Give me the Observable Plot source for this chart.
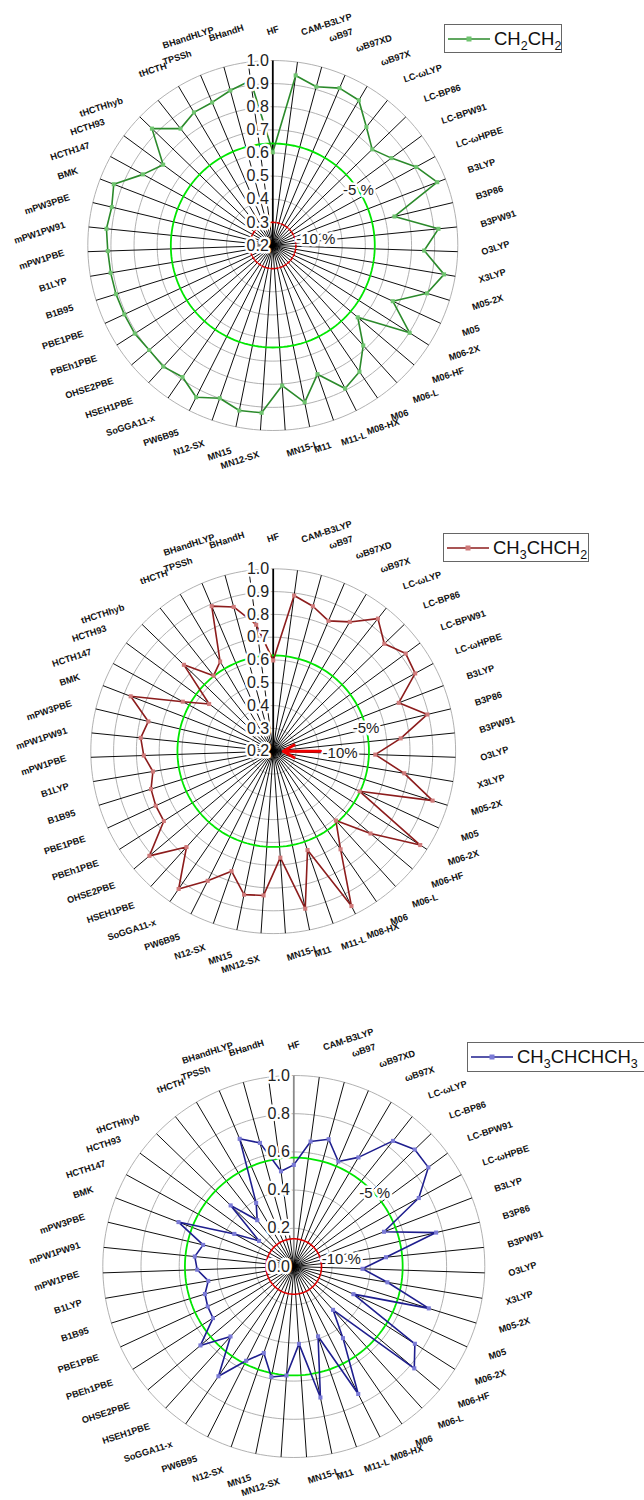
<!DOCTYPE html>
<html>
<head>
<meta charset="utf-8">
<script src="https://cdn.jsdelivr.net/npm/d3@7"></script>
<script src="https://cdn.jsdelivr.net/npm/@observablehq/plot@0.6"></script>
<style>
  html,body{margin:0;padding:0;background:#fff;overflow:hidden;}
  #page{position:relative;width:644px;height:1500px;overflow:hidden;font-family:"Liberation Sans",Arial,sans-serif;}
  .panel{position:absolute;left:0;width:644px;}
  .legend{position:absolute;box-sizing:border-box;border:1px solid #666;background:#fff;display:flex;align-items:center;white-space:nowrap;font-size:18.5px;color:#111;padding-left:2px;}
  .legend svg{margin-right:3px;flex:none;}
  .legend sub{font-size:12.5px;vertical-align:-5px;line-height:0;}
</style>
</head>
<body>
<div id="page"></div>
<script>
// ---------------- data ----------------
const categories = ["HF","CAM-B3LYP","ωB97","ωB97XD","ωB97X","LC-ωLYP","LC-BP86","LC-BPW91","LC-ωHPBE",
  "B3LYP","B3P86","B3PW91","O3LYP","X3LYP","M05-2X","M05","M06-2X","M06-HF","M06-L","M06","M08-HX",
  "M11-L","M11","MN15-L","MN12-SX","MN15","N12-SX","PW6B95","SoGGA11-x","HSEH1PBE","OHSE2PBE",
  "PBEh1PBE","PBE1PBE","B1B95","B1LYP","mPW1PBE","mPW1PW91","mPW3PBE","BMK","HCTH147","HCTH93",
  "tHCTHhyb","","tHCTH","TPSSh","BHandHLYP","BHandH"];

const valuesCH2CH2 = [0.603,0.942,0.912,0.939,0.930,0.853,0.798,0.837,0.907,0.962,
  0.741,0.920,0.855,0.951,0.898,0.772,0.902,0.681,0.783,0.862,
  0.893,0.789,0.892,0.807,0.925,0.928,0.899,0.935,0.890,0.906,
  0.900,0.908,0.908,0.910,0.911,0.914,0.923,0.916,0.937,0.840,
  0.789,0.927,0.844,0.869,0.872,0.895,0.920];

const valuesCH3CHCH2 = [0.598,0.889,0.859,0.821,0.859,0.941,0.878,0.922,0.910,0.790,
  0.895,0.762,0.648,0.783,0.932,0.618,0.965,0.759,0.610,0.722,
  0.961,0.659,0.905,0.668,0.834,0.842,0.757,0.837,0.933,0.767,
  0.911,0.769,0.768,0.761,0.735,0.768,0.784,0.763,0.870,0.652,
  0.549,0.745,0.622,0.657,0.891,0.856,0.760];

const valuesCH3CHCHCH3 = [0.532,0.660,0.691,0.597,0.664,0.838,0.881,0.875,0.746,0.506,
  0.766,0.485,0.360,0.497,0.740,0.344,0.752,0.826,0.306,0.455,
  0.748,0.387,0.700,0.406,0.572,0.590,0.479,0.553,0.697,0.494,
  0.640,0.502,0.497,0.487,0.454,0.506,0.521,0.488,0.647,0.355,
  0.226,0.460,0.309,0.387,0.726,0.671,0.503];

const ticksA = [0.2,0.3,0.4,0.5,0.6,0.7,0.8,0.9,1.0];
const tickLabelsA = ["0.2","0.3","0.4","0.5","0.6","0.7","0.8","0.9","1.0"];
const ticksB = [0.0,0.2,0.4,0.6,0.8,1.0];
const tickLabelsB = ["0.0","0.2","0.4","0.6","0.8","1.0"];

// reference rings (-5 % / -10 %) per panel, in axis units
const ringFive = [0.641, 0.620, 0.570];
const ringTen  = [0.300, null, 0.145];
const ringFiveText = ["-5 %", "-5%", "-5 %"];
const ringTenText  = ["-10 %", "-10%", "-10 %"];

// ---------------- drawing ----------------
const W = 644;
const page = document.getElementById("page");
// extra label clearance for the crowded labels just left of the top spoke
const crowdedExtra = {45: 15, 46: 11};

function radar(cfg) {
  const n = categories.length;
  const rs = d3.scaleLinear().domain([cfg.vmin, cfg.vmax]).range([0, cfg.R]);
  const ang = i => i * 2 * Math.PI / n;
  const polar = (r, t) => [r * Math.sin(t), -r * Math.cos(t)];
  const circle = (level) => d3.range(0, 360, 2).map(deg => {
    const [x, y] = polar(rs(level), deg * Math.PI / 180);
    return {level, x, y};
  });
  const grid = cfg.gridLevels.flatMap(circle);
  const spokes = categories.map((c, i) => {
    const [x2, y2] = polar(cfg.R, ang(i));
    return {i, x1: 0, y1: 0, x2, y2};
  });
  const pts = cfg.values.map((v, i) => {
    const [x, y] = polar(rs(v), ang(i));
    return {v, i, x, y};
  });
  const labels = categories.map((c, i) => {
    const t = ang(i);
    const deg = i * 360 / n;
    const bump = (deg <= 90) ? 6 * Math.pow(Math.cos(t), 4) : 0;
    const gap = cfg.labelGap + bump + (crowdedExtra[i] || 0);
    const [x, y] = polar(cfg.R + gap, t);
    return {text: c, x, y, side: deg === 0 ? "mid" : (deg <= 180 ? "right" : "left")};
  });
  const ticks = cfg.ticks.map((t, k) => ({t, label: cfg.tickLabels[k], y: -rs(t)}));

  const fivePos = (() => { const [x, y] = polar(rs(cfg.five), cfg.fiveAngle * Math.PI / 180); return [{x, y, text: cfg.fiveText}]; })();

  const labelStyle = {fontWeight: "bold", fontSize: 9.2, rotate: -18, fill: "#111"};
  const marks = [
    Plot.line(grid, {x: "x", y: "y", z: "level", stroke: "#a8a8a8", strokeWidth: 0.9, curve: "linear-closed"}),
    Plot.link(spokes, {x1: "x1", y1: "y1", x2: "x2", y2: "y2",
      stroke: d => d.i === 0 ? cfg.hfSpoke : "#000", strokeWidth: d => d.i === 0 ? 1.8 : 0.95}),
    Plot.line(circle(cfg.five), {x: "x", y: "y", stroke: "#00e600", strokeWidth: 1.8, curve: "linear-closed"}),
  ];
  if (cfg.ten != null) {
    marks.push(Plot.line(circle(cfg.ten), {x: "x", y: "y", stroke: "#e00000", strokeWidth: 1.6,
      strokeDasharray: cfg.tenDash ? "2.5,2" : null, curve: "linear-closed"}));
  }
  marks.push(
    Plot.line(pts, {x: "x", y: "y", stroke: cfg.color, strokeWidth: 1.6, curve: "linear-closed"}),
    Plot.dot(pts, {x: "x", y: "y", symbol: "square", r: 2.3, fill: cfg.markColor, stroke: null}),
    Plot.text(ticks, {x: d => 0, y: "y", dx: -4, text: "label", textAnchor: "end", fontSize: 16,
      fill: "#222", stroke: "#fff", strokeWidth: 5, paintOrder: "stroke"}),
    Plot.text(fivePos, {x: "x", y: "y", text: "text", fontSize: 15, fill: "#222",
      stroke: "#fff", strokeWidth: 5, paintOrder: "stroke"})
  );
  if (cfg.ten != null) {
    const r0 = rs(cfg.ten) + 1;
    const [x, y] = polar(r0, 76 * Math.PI / 180);
    marks.push(Plot.text([{x, y, text: cfg.tenText}], {x: "x", y: "y", text: "text", textAnchor: "start",
      fontSize: 15, fill: "#222", stroke: "#fff", strokeWidth: 5, paintOrder: "stroke"}));
  } else {
    const a1 = cfg.R * 0.26, a2 = cfg.R * 0.055;
    marks.push(
      Plot.arrow([{x1: a1, y1: 0, x2: a2, y2: 0}], {x1: "x1", y1: "y1", x2: "x2", y2: "y2",
        stroke: "#ee0000", strokeWidth: 3, headLength: 9}),
      Plot.text([{x: a1 + 2, y: 2, text: cfg.tenText}], {x: "x", y: "y", text: "text", textAnchor: "start",
        fontSize: 15, fill: "#222", stroke: "#fff", strokeWidth: 4, paintOrder: "stroke"})
    );
  }
  marks.push(
    Plot.text(labels.filter(d => d.side === "right"), {x: "x", y: "y", text: "text", textAnchor: "start", ...labelStyle}),
    Plot.text(labels.filter(d => d.side === "left"), {x: "x", y: "y", text: "text", textAnchor: "end", ...labelStyle}),
    Plot.text(labels.filter(d => d.side === "mid"), {x: "x", y: "y", text: "text", textAnchor: "middle", ...labelStyle})
  );

  const svg = Plot.plot({
    width: W, height: cfg.height, margin: 0,
    style: {fontFamily: "'Liberation Sans', Arial, sans-serif", background: "transparent", overflow: "visible"},
    x: {domain: [-cfg.cx, W - cfg.cx], range: [0, W], axis: null},
    y: {domain: [-cfg.cy, cfg.height - cfg.cy], range: [0, cfg.height], axis: null},
    marks
  });
  const holder = document.createElement("div");
  holder.className = "panel";
  holder.style.top = cfg.top + "px";
  holder.appendChild(svg);
  page.appendChild(holder);

  const lg = document.createElement("div");
  lg.className = "legend";
  Object.assign(lg.style, {left: cfg.legend[0] + "px", top: cfg.legend[1] + "px", width: cfg.legend[2] + "px", height: cfg.legend[3] + "px"});
  lg.innerHTML = `<svg width="44" height="10"><line x1="1" y1="5" x2="43" y2="5" stroke="${cfg.color}" stroke-width="1.6"/>` +
    `<rect x="19.5" y="2.5" width="5" height="5" fill="${cfg.markColor}"/></svg><span>${cfg.name}</span>`;
  page.appendChild(lg);
}

radar({top: 0, height: 505, cx: 272.3, cy: 245, R: 185, vmin: 0.2, vmax: 1.0, labelGap: 24,
  gridLevels: ticksA, ticks: ticksA, tickLabels: tickLabelsA, values: valuesCH2CH2,
  color: "#2b8a2b", markColor: "#6fc46f", hfSpoke: "#000",
  five: ringFive[0], fiveAngle: 57, fiveText: ringFiveText[0],
  ten: ringTen[0], tenDash: true, tenText: ringTenText[0],
  name: "CH<sub>2</sub>CH<sub>2</sub>", legend: [444, 24, 118, 29]});

radar({top: 505, height: 515, cx: 272.7, cy: 245.7, R: 182.4, vmin: 0.2, vmax: 1.0, labelGap: 25,
  gridLevels: ticksA, ticks: ticksA, tickLabels: tickLabelsA, values: valuesCH3CHCH2,
  color: "#8c1c1c", markColor: "#cf7a7a", hfSpoke: "#000",
  five: ringFive[1], fiveAngle: 76, fiveText: ringFiveText[1],
  ten: ringTen[1], tenText: ringTenText[1],
  name: "CH<sub>3</sub>CHCH<sub>2</sub>", legend: [443, 533, 146, 29]});

radar({top: 1020, height: 480, cx: 293.3, cy: 246, R: 191, vmin: 0.0, vmax: 1.0, labelGap: 24,
  gridLevels: ticksB.slice(1), ticks: ticksB, tickLabels: tickLabelsB, values: valuesCH3CHCHCH3,
  color: "#1e1e8e", markColor: "#7a7ad6", hfSpoke: "#8a8a8a",
  five: ringFive[2], fiveAngle: 48, fiveText: ringFiveText[2],
  ten: ringTen[2], tenDash: false, tenText: ringTenText[2],
  name: "CH<sub>3</sub>CHCHCH<sub>3</sub>", legend: [467, 1042, 180, 30]});
</script>
</body>
</html>
